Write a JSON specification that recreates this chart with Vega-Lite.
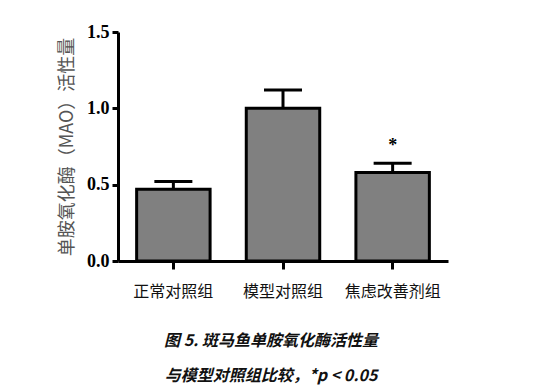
{
  "$schema": "https://vega.github.io/schema/vega-lite/v6.json",
  "width": 330,
  "height": 229,
  "autosize": {"type": "none"},
  "padding": {"left": 118, "top": 32, "right": 95, "bottom": 129},
  "background": "white",
  "data": {
    "values": [
      {"group": "正常对照组", "value": 0.47, "upper": 0.52, "sig": ""},
      {"group": "模型对照组", "value": 1.0, "upper": 1.12, "sig": ""},
      {"group": "焦虑改善剂组", "value": 0.58, "upper": 0.64, "sig": "*"}
    ]
  },
  "title": {
    "text": ["图 5. 斑马鱼单胺氧化酶活性量", "与模型对照组比较，*p < 0.05"],
    "orient": "bottom",
    "anchor": "middle",
    "dx": -12,
    "offset": 34,
    "font": "Noto Sans CJK SC",
    "fontSize": 16,
    "fontStyle": "italic",
    "fontWeight": "bold",
    "lineHeight": 35,
    "color": "#111"
  },
  "config": {
    "view": {"stroke": null},
    "axis": {
      "domainColor": "#000",
      "domainWidth": 3,
      "tickColor": "#000",
      "tickWidth": 3,
      "grid": false
    }
  },
  "layer": [
    {
      "mark": {"type": "bar", "fill": "#808080", "stroke": "#000", "strokeWidth": 3},
      "encoding": {
        "x": {
          "field": "group",
          "type": "nominal",
          "sort": null,
          "scale": {"paddingInner": 0.33, "paddingOuter": 0.17},
          "axis": {
            "title": null,
            "labelAngle": 0,
            "labelFont": "Noto Sans CJK SC",
            "labelFontSize": 16,
            "labelColor": "#111",
            "labelPadding": 14,
            "tickSize": 8
          }
        },
        "y": {
          "field": "value",
          "type": "quantitative",
          "scale": {"domain": [0, 1.5], "nice": false},
          "axis": {
            "values": [0, 0.5, 1.0, 1.5],
            "format": ".1f",
            "labelFont": "Times New Roman, Liberation Serif, serif",
            "labelFontWeight": "bold",
            "labelFontSize": 18,
            "labelColor": "#000",
            "labelPadding": 3,
            "tickSize": 6,
            "title": "单胺氧化酶（MAO）活性量",
            "titleFont": "Noto Sans CJK SC",
            "titleFontSize": 18,
            "titleFontWeight": "normal",
            "titleColor": "#555",
            "titlePadding": 10
          }
        }
      }
    },
    {
      "mark": {"type": "rule", "stroke": "#000", "strokeWidth": 3},
      "encoding": {
        "x": {"field": "group", "type": "nominal", "sort": null},
        "y": {"field": "value", "type": "quantitative"},
        "y2": {"field": "upper"}
      }
    },
    {
      "mark": {"type": "tick", "color": "#000", "thickness": 3, "size": 38, "opacity": 1},
      "encoding": {
        "x": {"field": "group", "type": "nominal", "sort": null},
        "y": {"field": "upper", "type": "quantitative"}
      }
    },
    {
      "mark": {"type": "text", "font": "Times New Roman, Liberation Serif, serif", "fontSize": 18, "fontWeight": "bold", "dy": -8, "baseline": "bottom", "color": "#000"},
      "encoding": {
        "x": {"field": "group", "type": "nominal", "sort": null},
        "y": {"field": "upper", "type": "quantitative"},
        "text": {"field": "sig"}
      }
    }
  ]
}
